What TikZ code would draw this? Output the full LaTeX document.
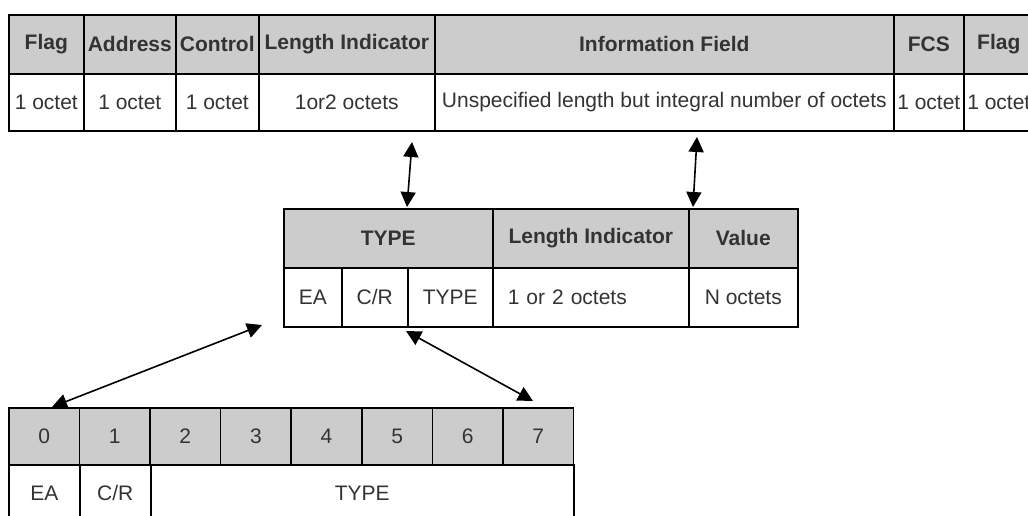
\documentclass[tikz,border=0pt]{standalone}
\usepackage{fontspec}
\setmainfont{Liberation Sans}
\usetikzlibrary{arrows.meta}
\definecolor{cellgray}{RGB}{204,204,204}
\definecolor{txtgray}{RGB}{51,51,51}

\begin{document}
\begin{tikzpicture}[x=1pt,y=-1pt,
    cell/.style={draw=black,line width=1.6pt,inner sep=0pt,anchor=north west,
        text=txtgray,font=\fontsize{21}{24}\selectfont},
    head/.style={cell,fill=cellgray,font=\fontsize{21}{24}\selectfont\bfseries},
    bit/.style={cell,fill=cellgray},
    link/.style={{Triangle[length=15pt,width=15pt]}-{Triangle[length=15pt,width=15pt]},line width=1.6pt}]
    \useasboundingbox (0,0) rectangle (1028,515);

    % frame
    \foreach \x/\w/\n/\a/\b in {8/75/fla/Flag/1 octet, 83/92/adr/Address/1 octet,
        175/83/ctl/Control/1 octet, 258/176/len/Length Indicator/1or2 octets,
        434/459/inf/Information Field/Unspecified length but integral number of octets,
        893/70/fcs/FCS/1 octet, 963/70/flb/Flag/1 octet}{
        \node[head,minimum width=\w,minimum height=59] (\n h) at (\x,14) {\a};
        \node[cell,minimum width=\w,minimum height=57] (\n v) at (\x,73) {\b};
    }

    % type / length / value
    \node[head,minimum width=209,minimum height=59] (tlvt) at (283,208) {TYPE};
    \node[head,minimum width=196,minimum height=59] (tlvl) at (492,208) {Length Indicator};
    \node[head,minimum width=109,minimum height=59] (tlvv) at (688,208) {Value};
    \node[cell,minimum width=58,minimum height=59] (tea) at (283,267) {EA};
    \node[cell,minimum width=66,minimum height=59] (tcr) at (341,267) {C/R};
    \node[cell,minimum width=85,minimum height=59] (ttp) at (407,267) {TYPE};
    \node[cell,text width=166pt,inner xsep=15pt,align=left,minimum height=59] (tln) at (492,267) {1 or 2 octets};
    \node[cell,minimum width=109,minimum height=59] (tvl) at (688,267) {N octets};

    % type octet bits
    \foreach \i in {0,...,7}{
        \node[bit,minimum width=70.6,minimum height=57] (b\i) at (8+70.6*\i,407) {\i};
    }
    \node[cell,minimum width=71,minimum height=57] (bea) at (8,464) {EA};
    \node[cell,minimum width=71,minimum height=57] (bcr) at (79,464) {C/R};
    \node[cell,minimum width=423,minimum height=57] (btp) at (150,464) {TYPE};

    \coordinate (a1) at (412,142);
    \coordinate (e1) at (407,207);
    \coordinate (a2) at (697,137);
    \coordinate (e2) at (693,207);
    \coordinate (a3) at (262,325);
    \coordinate (e3) at (52,407);
    \coordinate (a4) at (406,331);
    \coordinate (e4) at (533,401);

    \draw[link] (a1) -- (e1);
    \draw[link] (a2) -- (e2);
    \draw[link] (a3) -- (e3);
    \draw[link] (a4) -- (e4);
\end{tikzpicture}
\end{document}
